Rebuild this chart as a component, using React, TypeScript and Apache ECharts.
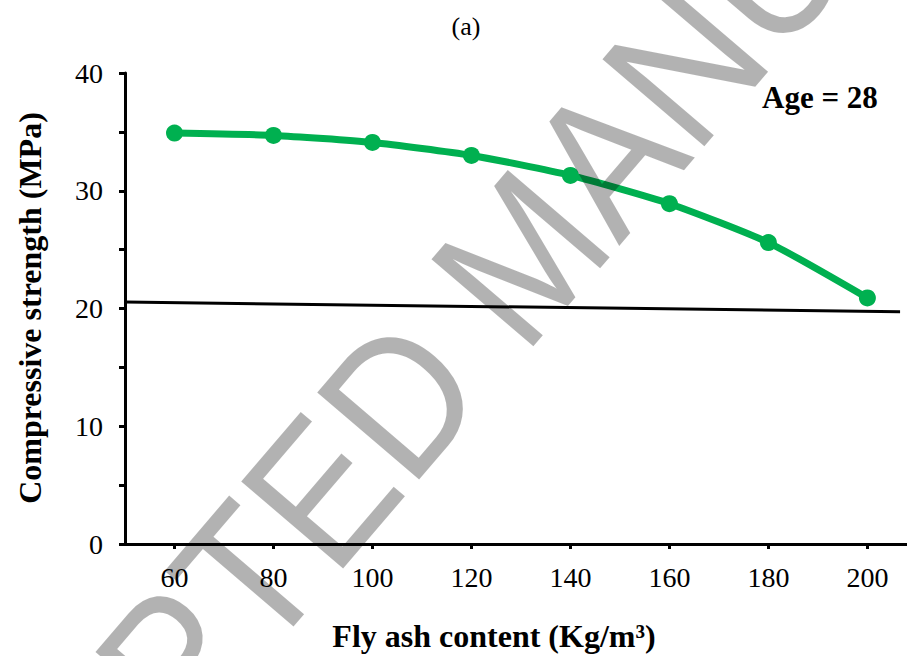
import React, { useEffect, useRef } from "react";
import * as echarts from "echarts";

const flyAsh = [60, 80, 100, 120, 140, 160, 180, 200];
const strength = [34.9, 34.7, 34.1, 33.0, 31.3, 28.9, 25.6, 20.9];
const refLineX = [50, 206.6];
const refLineY = [20.55, 19.72];
const xTicks = [60, 80, 100, 120, 140, 160, 180, 200];
const titleText = "(a)";
const ageText = "Age = 28";
const xName = "Fly ash content (Kg/m³)";
const yName = "Compressive strength (MPa)";
const watermark = "ACCEPTED MANUSCRIPT";

const SERIF = "Liberation Serif";

export default function App() {
  const ref = useRef<HTMLDivElement>(null);
  useEffect(() => {
    if (!ref.current) return;
    const chart = echarts.init(ref.current, undefined, { renderer: "svg" });
    const rot = (49.5 * Math.PI) / 180;
    chart.setOption({
      animation: false,
      backgroundColor: "#ffffff",
      grid: { left: 125, right: 0, top: 73, bottom: 112, containLabel: false, outerBoundsMode: "none" },
      xAxis: {
        type: "value",
        min: 50,
        max: 208,
        axisLine: { show: true, onZero: false, lineStyle: { color: "#000", width: 3 } },
        axisTick: { show: true, customValues: xTicks, length: 5, lineStyle: { color: "#000", width: 3 } },
        axisLabel: { customValues: xTicks, fontFamily: SERIF, fontSize: 28, color: "#000", margin: 19 },
        splitLine: { show: false },
      },
      yAxis: {
        type: "value",
        min: 0,
        max: 40,
        interval: 5,
        axisLine: { show: true, lineStyle: { color: "#000", width: 3 } },
        axisTick: { show: true, length: 6, lineStyle: { color: "#000", width: 3 } },
        axisLabel: {
          fontFamily: SERIF,
          fontSize: 28,
          color: "#000",
          margin: 22,
          formatter: (v: number) => (v % 10 === 0 ? String(v) : ""),
        },
        splitLine: { show: false },
      },
      series: [
        {
          type: "line",
          data: refLineX.map((x, i) => [x, refLineY[i]]),
          symbol: "none",
          lineStyle: { color: "#000", width: 3 },
          z: 2,
        },
        {
          type: "line",
          data: flyAsh.map((x, i) => [x, strength[i]]),
          smooth: 0.2,
          symbol: "circle",
          symbolSize: 17,
          itemStyle: { color: "#00B050" },
          lineStyle: { color: "#00B050", width: 7 },
          z: 3,
        },
      ],
      graphic: [
        {
          type: "text",
          x: 466,
          y: 26,
          style: { text: titleText, fontFamily: SERIF, fontSize: 26, fill: "#000", textAlign: "center", textVerticalAlign: "middle" },
        },
        {
          type: "text",
          x: 762,
          y: 97,
          style: { text: ageText, fontFamily: SERIF, fontSize: 31, fontWeight: "bold", fill: "#000", textAlign: "left", textVerticalAlign: "middle" },
        },
        {
          type: "text",
          x: 494,
          y: 636,
          style: { text: xName, fontFamily: SERIF, fontSize: 32, fontWeight: "bold", fill: "#000", textAlign: "center", textVerticalAlign: "middle" },
        },
        {
          type: "text",
          x: 30,
          y: 308,
          rotation: Math.PI / 2,
          style: { text: yName, fontFamily: SERIF, fontSize: 32, fontWeight: "bold", fill: "#000", textAlign: "center", textVerticalAlign: "middle" },
        },
        {
          type: "text",
          x: 523,
          y: 254,
          rotation: rot,
          scaleX: 0.9,
          z: 100,
          silent: true,
          style: {
            text: watermark,
            fontFamily: "Liberation Sans",
            fontSize: 195,
            fill: "rgba(0,0,0,0.3)",
            textAlign: "center",
            textVerticalAlign: "middle",
          },
        },
      ],
    });
    return () => chart.dispose();
  }, []);
  return <div ref={ref} style={{ position: "fixed", left: 0, top: 0, width: 907, height: 656 }} />;
}
